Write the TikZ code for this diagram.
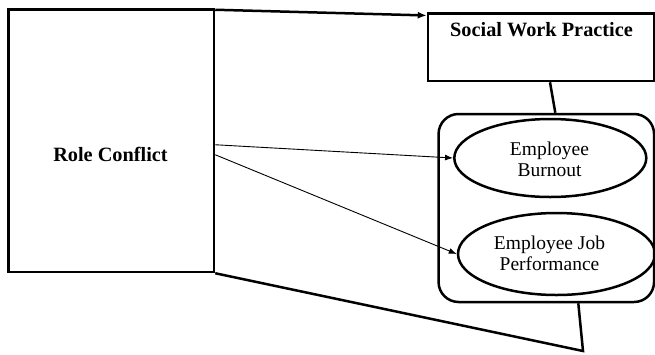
\documentclass[tikz,border=0pt]{standalone}
\usepackage{fontspec}
\setmainfont{Liberation Serif}
\usetikzlibrary{shapes.geometric,arrows.meta,calc}
\begin{document}
\begin{tikzpicture}[x=1pt,y=-1pt,
  thickline/.style={line width=2.5pt},
  thinline/.style={line width=0.9pt},
  boxshape/.style={draw,thickline,rectangle,inner sep=0pt},
  ovalshape/.style={draw,thickline,ellipse,inner sep=0pt},
  boldtxt/.style={font=\fontsize{20.3}{21}\selectfont\bfseries,inner sep=0pt},
  plaintxt/.style={font=\fontsize{19.5}{21}\selectfont,align=center,inner sep=0pt},
  bigarrow/.style={-{Latex[length=9pt,width=7pt]}},
  smallarrow/.style={-{Latex[length=8pt,width=6pt]}}]
\useasboundingbox (0,0) rectangle (655,354);
\clip (0,0) rectangle (655,354);
% Role Conflict box
\node[boxshape,minimum width=205.5pt,minimum height=262.5pt] (rc) at (111.25,140.75) {};
\node[boldtxt] (rct) at (110.5,154) {Role Conflict};
% Social Work Practice box
\node[boxshape,minimum width=226pt,minimum height=67.5pt] (swp) at (541,47.25) {};
\node[boldtxt] (swpt) at (541.5,30) {Social Work Practice};
% group rounded box
\node[boxshape,rounded corners=20pt,minimum width=215.5pt,minimum height=188pt] (grp) at (546.3,208) {};
% ellipses
\node[ovalshape,minimum width=192pt,minimum height=78pt] (eb) at (550.3,158) {};
\node[plaintxt] (ebt) at (549.5,159) {Employee\\Burnout};
\node[ovalshape,minimum width=197pt,minimum height=82pt] (ep) at (556.5,254) {};
\node[plaintxt] (ept) at (549.5,253) {Employee Job\\Performance};
\coordinate (tip) at (583,351);
% connectors
\draw[thickline,bigarrow] ($(rc.north east)+(0,1.5)$) -- ($(swp.north west)+(0,3.2)$);
\draw[thinline,smallarrow] ($(rc.east)+(0,4)$) -- (eb.west);
\draw[thinline,smallarrow] ($(rc.east)+(0,14)$) -- (ep.west);
\draw[thickline] ($(swp.south)+(9,0)$) -- ($(grp.north)+(9,0)$);
\draw[thickline,line join=miter] (rc.south east) -- (tip) -- ($(grp.south)+(32,0)$);
\end{tikzpicture}
\end{document}
